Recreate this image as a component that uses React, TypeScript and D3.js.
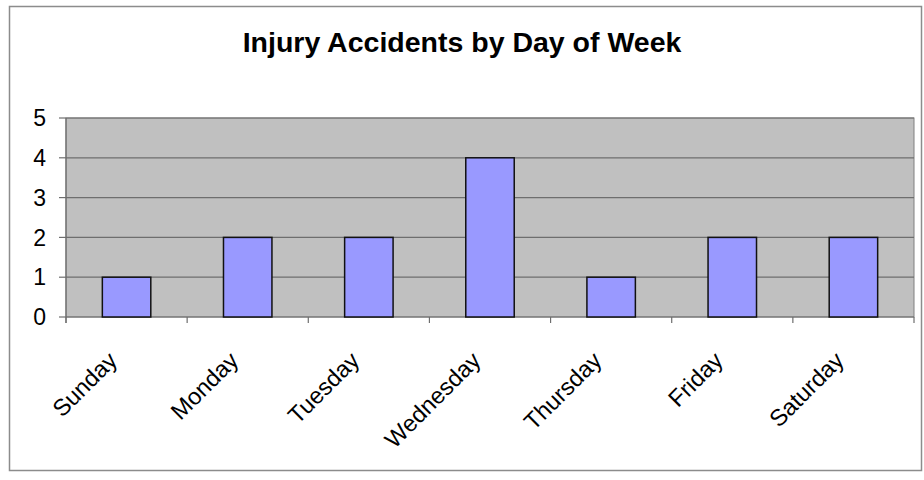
import * as d3 from 'd3';

const days = ['Sunday', 'Monday', 'Tuesday', 'Wednesday', 'Thursday', 'Friday', 'Saturday'];
const accidents = [1, 2, 2, 4, 1, 2, 2];
const yTicks = [0, 1, 2, 3, 4, 5];
const chartTitle = 'Injury Accidents by Day of Week';

const W = 924;
const H = 480;
const plot = { left: 66, top: 118, right: 914, bottom: 317 };
const font = '"Liberation Sans", Arial, sans-serif';

export default function App() {
    const x = d3.scaleBand<string>().domain(days).range([plot.left, plot.right]).paddingInner(0).paddingOuter(0);
    const y = d3.scaleLinear().domain([0, 5]).range([plot.bottom, plot.top]);
    const barW = x.bandwidth() * 0.4;
    const boundaries = [...days.map((d) => x(d) ?? 0), plot.right];

    return (
        <svg width={W} height={H} style={{ position: 'absolute', left: 0, top: 0, background: '#fff' }}>
            <rect x={9.5} y={6.5} width={912} height={464} fill="#fff" stroke="#8c8c8c" strokeWidth={1.5} />
            <text x={462} y={52} textAnchor="middle" fontFamily={font} fontWeight="bold" fontSize={28.5} fill="#000">
                {chartTitle}
            </text>
            <rect x={plot.left} y={plot.top} width={plot.right - plot.left} height={plot.bottom - plot.top} fill="#c0c0c0" stroke="#808080" strokeWidth={1} />
            {yTicks.map((t) => (
                <g key={t}>
                    <line x1={plot.left} x2={plot.right} y1={y(t)} y2={y(t)} stroke="#6e6e6e" strokeWidth={1.2} />
                    <line x1={plot.left - 7} x2={plot.left} y1={y(t)} y2={y(t)} stroke="#6e6e6e" strokeWidth={1.2} />
                    <text x={46} y={y(t)} dy="0.36em" textAnchor="end" fontFamily={font} fontSize={23} fill="#000">
                        {t}
                    </text>
                </g>
            ))}
            <line x1={plot.left} x2={plot.left} y1={plot.top} y2={plot.bottom + 6} stroke="#6e6e6e" strokeWidth={1.2} />
            {boundaries.map((bx, i) => (
                <line key={i} x1={bx} x2={bx} y1={plot.bottom} y2={plot.bottom + 6} stroke="#6e6e6e" strokeWidth={1.2} />
            ))}
            {days.map((d, i) => {
                const cx = (x(d) ?? 0) + x.bandwidth() / 2;
                return (
                    <rect
                        key={d}
                        x={cx - barW / 2}
                        y={y(accidents[i])}
                        width={barW}
                        height={y(0) - y(accidents[i])}
                        fill="#9999ff"
                        stroke="#111"
                        strokeWidth={1.5}
                    />
                );
            })}
            {days.map((d) => {
                const cx = (x(d) ?? 0) + x.bandwidth() / 2;
                return (
                    <text
                        key={d}
                        transform={`translate(${cx - 8},${plot.bottom + 45}) rotate(-45)`}
                        textAnchor="end"
                        fontFamily={font}
                        fontSize={23.5}
                        fill="#000"
                    >
                        {d}
                    </text>
                );
            })}
        </svg>
    );
}
